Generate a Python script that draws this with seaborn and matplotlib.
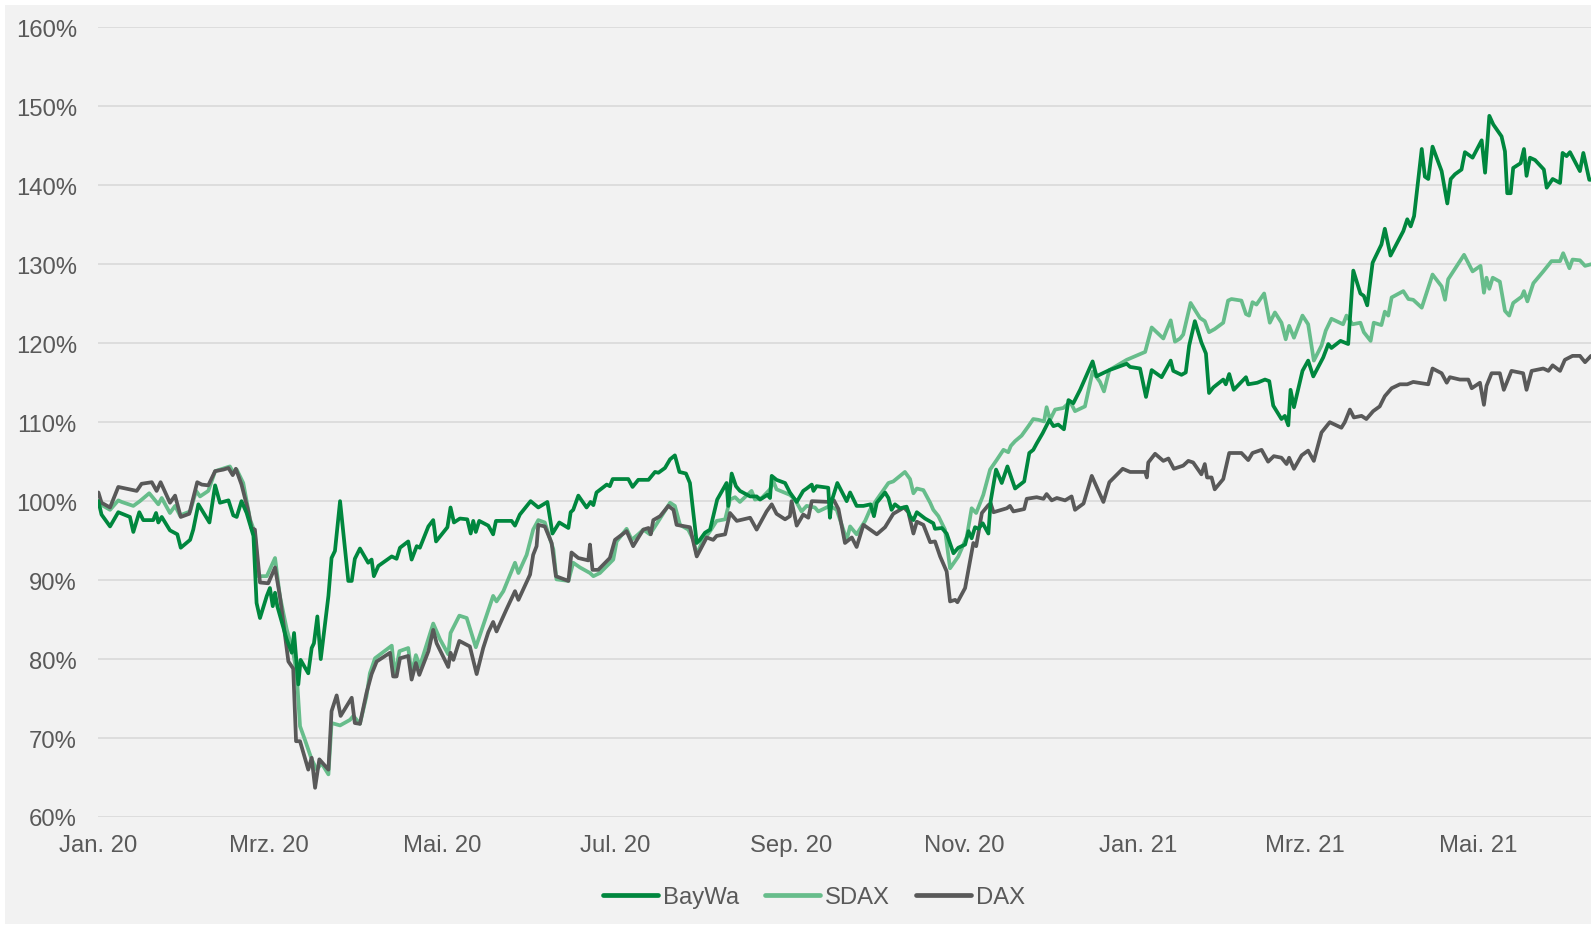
import pandas as pd
import matplotlib
matplotlib.use("Agg")
import matplotlib.pyplot as plt
from matplotlib.patches import Rectangle
from matplotlib.lines import Line2D
import seaborn as sns

# ---------------- data (indexed to 100 % at start, days since 2020-01-01) ----------------
start_date = "2020-01-01"
series_names = ["BayWa", "SDAX", "DAX"]
series_colors = ["#00873e", "#67bd8b", "#595959"]

baywa_days = [
    0, 1.1, 4.1, 7.0, 11.1, 12.3, 14.4, 15.8, 19.3, 20.3,
    21.1, 22.3, 25.2, 27.8, 29.0, 32.3, 33.4, 35.2, 39.1, 41.1,
    42.8, 45.8, 47.5, 48.7, 50.4, 52.2, 54.6, 55.7, 56.9, 59.3,
    60.4, 61.4, 62.2, 63.0, 66.3, 68.1, 68.9, 70.4, 71.2, 73.9,
    75.1, 75.9, 77.1, 78.3, 81.0, 82.1, 83.3, 85.1, 88.0, 89.2,
    90.3, 92.1, 95.0, 96.2, 97.0, 98.6, 103.3, 105.0, 106.2, 109.1,
    110.3, 112.1, 113.2, 116.2, 117.9, 118.9, 122.9, 124.0, 125.2, 127.3,
    129.9, 131.1, 132.0, 132.9, 134.1, 137.3, 139.0, 140.0, 145.5, 146.7,
    148.4, 152.2, 154.9, 158.1, 159.9, 162.3, 165.5, 166.3, 167.2, 169.0,
    171.9, 173.3, 174.3, 175.4, 179.0, 180.1, 181.1, 186.6, 188.1, 190.1,
    193.7, 196.0, 197.2, 199.5, 201.3, 203.0, 204.6, 206.9, 208.3, 210.7,
    211.8, 213.6, 215.4, 217.9, 221.2, 221.8, 223.0, 224.5, 225.9, 229.5,
    231.8, 233.0, 235.6, 236.5, 237.1, 238.8, 241.8, 243.5, 245.9, 248.2,
    249.4, 251.2, 251.8, 252.9, 257.0, 257.6, 258.2, 260.2, 263.5, 264.7,
    267.0, 269.4, 271.9, 273.1, 274.1, 277.0, 278.2, 279.3, 280.5, 282.3,
    284.6, 285.8, 287.0, 288.2, 291.1, 294.0, 294.6, 297.0, 298.7, 301.1,
    302.8, 305.2, 306.4, 307.5, 308.7, 309.9, 311.4, 313.4, 314.2, 316.1,
    318.1, 320.1, 322.8, 326.0, 327.8, 329.2, 330.4, 332.5, 334.9, 336.3,
    338.0, 340.0, 341.6, 343.3, 345.7, 350.1, 351.5, 352.5, 356.0, 362.1,
    363.3, 366.8, 368.9, 370.9, 374.4, 377.6, 378.5, 381.4, 382.9, 384.1,
    386.1, 388.4, 390.0, 391.1, 392.6, 396.1, 397.0, 398.2, 399.8, 404.1,
    404.9, 408.1, 410.8, 412.3, 413.7, 416.6, 417.8, 419.0, 419.8, 421.0,
    424.0, 426.0, 427.8, 431.3, 433.1, 434.2, 437.4, 440.1, 441.9, 444.4,
    445.6, 446.8, 448.7, 451.8, 453.0, 455.0, 459.5, 460.9, 462.1, 463.3,
    466.0, 467.1, 468.3, 469.8, 473.0, 475.0, 476.2, 477.7, 480.0, 481.2,
    483.9, 487.1, 488.3, 489.8, 491.2, 494.1, 495.3, 496.1, 497.3, 498.2,
    500.8, 502.0, 502.9, 504.1, 505.9, 509.0, 510.0, 512.1, 514.7, 515.6,
    517.0, 518.2, 521.7, 522.9, 525.0, 525.6,
]
baywa_values = [
    100.0, 98.3, 96.8, 98.6, 98.0, 96.1, 98.6, 97.6, 97.6, 98.5,
    97.3, 98.0, 96.3, 95.8, 94.1, 95.1, 96.4, 99.6, 97.3, 102.0,
    99.8, 100.1, 98.2, 98.0, 100.0, 98.5, 95.6, 87.1, 85.2, 88.0,
    89.0, 86.7, 88.4, 86.7, 82.5, 80.8, 83.3, 76.8, 79.9, 78.2,
    81.4, 82.0, 85.4, 80.0, 88.0, 92.8, 93.7, 100.0, 89.9, 89.9,
    92.7, 94.0, 92.2, 92.6, 90.5, 91.8, 93.0, 92.7, 94.1, 94.9,
    92.6, 94.3, 94.1, 96.8, 97.6, 94.9, 96.7, 99.2, 97.3, 97.8,
    97.7, 95.9, 97.5, 96.1, 97.5, 96.9, 95.8, 97.5, 97.5, 96.9,
    98.3, 100.0, 99.2, 99.9, 95.9, 97.3, 96.6, 98.6, 98.9, 100.7,
    99.2, 99.9, 99.5, 101.1, 102.1, 101.9, 102.8, 102.8, 101.8, 102.7,
    102.7, 103.7, 103.6, 104.2, 105.3, 105.8, 103.7, 103.5, 102.3, 94.7,
    95.1, 96.0, 96.4, 100.2, 102.3, 99.4, 103.5, 101.9, 101.3, 100.6,
    100.6, 100.2, 100.8, 100.4, 103.2, 102.7, 102.3, 101.1, 99.9, 101.3,
    101.6, 102.1, 101.3, 101.9, 101.7, 97.9, 100.0, 102.3, 100.0, 101.1,
    99.4, 99.4, 99.6, 98.1, 99.8, 101.1, 100.4, 98.9, 99.6, 99.1,
    99.3, 98.1, 97.6, 98.6, 97.8, 97.2, 96.5, 96.6, 95.9, 93.4,
    94.1, 94.5, 96.2, 95.3, 96.7, 96.5, 97.2, 95.9, 100.0, 104.0,
    102.3, 104.4, 101.6, 102.5, 106.1, 106.5, 107.3, 108.6, 110.3, 109.5,
    109.7, 109.1, 112.8, 112.4, 114.1, 117.7, 115.8, 116.0, 116.6, 117.4,
    117.0, 116.8, 113.2, 116.6, 115.7, 117.8, 116.5, 116.0, 116.3, 119.7,
    122.8, 120.1, 118.7, 113.7, 114.4, 115.4, 114.8, 116.1, 114.1, 115.7,
    114.8, 115.0, 115.4, 115.2, 112.1, 110.4, 110.8, 109.6, 114.1, 111.9,
    116.5, 117.8, 115.8, 118.2, 119.9, 119.4, 120.3, 119.9, 129.2, 126.3,
    126.0, 124.8, 130.2, 132.5, 134.5, 131.1, 134.2, 135.7, 134.8, 136.1,
    144.6, 141.1, 140.8, 144.9, 141.8, 137.7, 140.8, 141.4, 142.0, 144.2,
    143.5, 145.7, 141.6, 148.8, 147.7, 146.2, 144.3, 139.0, 139.0, 142.2,
    142.8, 144.6, 141.2, 143.5, 143.2, 142.0, 139.7, 140.8, 140.3, 144.1,
    143.7, 144.2, 141.8, 144.1, 140.7, 140.7,
]

sdax_days = [
    0, 1.7, 4.1, 7.0, 8.2, 12.3, 14.6, 17.9, 19.3, 21.1,
    22.3, 25.2, 27.0, 28.7, 32.3, 34.4, 35.8, 38.7, 41.1, 46.3,
    47.5, 48.7, 51.0, 53.4, 55.1, 56.3, 59.3, 62.2, 63.9, 66.3,
    68.6, 69.8, 71.0, 72.7, 75.1, 76.9, 78.6, 81.0, 82.1, 85.1,
    88.6, 89.8, 92.1, 94.4, 95.6, 97.4, 103.3, 104.4, 106.0, 109.1,
    110.3, 111.8, 113.2, 117.9, 120.3, 123.2, 124.0, 127.1, 129.7, 132.9,
    139.0, 140.2, 142.6, 146.7, 147.9, 150.8, 153.1, 154.9, 157.2, 160.2,
    161.3, 165.5, 167.2, 169.6, 173.1, 174.3, 176.6, 181.3, 182.5, 186.0,
    187.8, 190.1, 191.9, 194.2, 196.0, 201.3, 203.0, 204.8, 207.7, 209.5,
    210.7, 212.4, 215.4, 217.7, 220.7, 222.4, 224.2, 225.9, 230.0, 231.2,
    233.6, 236.5, 237.7, 238.8, 243.5, 245.3, 247.6, 249.4, 252.3, 253.5,
    257.6, 260.0, 263.5, 264.7, 267.0, 270.0, 271.7, 274.1, 278.2, 279.9,
    284.0, 285.8, 287.0, 288.2, 290.5, 292.9, 294.0, 295.8, 298.1, 299.9,
    302.8, 305.8, 307.5, 309.1, 311.6, 314.0, 316.3, 318.7, 320.4, 321.3,
    322.8, 325.1, 327.5, 329.2, 331.0, 333.0, 333.9, 335.1, 336.9, 339.8,
    342.2, 343.9, 347.4, 350.1, 352.7, 354.1, 356.0, 362.1, 368.6, 370.9,
    375.0, 376.2, 377.6, 379.1, 380.9, 382.0, 384.6, 387.9, 389.6, 391.1,
    393.1, 396.1, 397.8, 399.0, 402.5, 404.1, 405.2, 406.4, 407.8, 410.5,
    412.5, 414.3, 416.6, 418.1, 419.3, 421.0, 424.0, 426.0, 428.0, 430.7,
    432.2, 434.2, 438.3, 439.5, 441.6, 444.4, 445.6, 448.0, 449.1, 451.8,
    453.0, 454.2, 455.4, 459.5, 461.3, 463.0, 466.0, 469.8, 473.0, 474.2,
    475.3, 480.9, 483.9, 486.7, 487.9, 488.8, 489.8, 491.0, 493.5, 495.3,
    496.8, 498.2, 501.2, 502.0, 503.2, 505.3, 508.8, 511.7, 514.7, 515.8,
    518.0, 519.1, 521.7, 523.5, 525.6,
]
sdax_values = [
    100.0, 99.4, 98.9, 100.1, 99.9, 99.4, 100.0, 101.0, 100.4, 99.6,
    100.4, 98.5, 99.4, 98.2, 98.7, 101.3, 100.6, 101.3, 103.8, 104.4,
    103.6, 104.0, 102.3, 97.7, 96.0, 90.5, 90.5, 92.8, 88.0, 83.8,
    80.8, 78.2, 71.5, 69.8, 67.3, 66.0, 66.8, 65.4, 71.9, 71.6,
    72.3, 72.8, 71.8, 75.3, 78.2, 80.1, 81.7, 77.8, 81.0, 81.4,
    78.2, 80.5, 79.1, 84.5, 82.5, 80.6, 83.3, 85.5, 85.2, 81.5,
    88.0, 87.3, 88.6, 92.2, 90.9, 93.2, 96.4, 97.6, 97.3, 93.9,
    90.1, 89.9, 92.2, 91.6, 90.9, 90.5, 90.9, 92.6, 94.9, 96.5,
    95.1, 95.8, 96.4, 95.8, 96.8, 99.8, 99.4, 97.0, 96.4, 95.1,
    93.2, 94.7, 96.2, 97.5, 97.7, 100.2, 100.5, 99.9, 101.3, 100.2,
    100.4, 101.5, 102.5, 101.5, 100.8, 100.2, 98.7, 99.4, 99.2, 98.7,
    99.4, 98.9, 95.1, 96.8, 95.8, 97.5, 98.9, 100.2, 102.3, 102.5,
    103.7, 102.8, 101.0, 101.6, 101.4, 99.8, 98.9, 98.1, 96.4, 91.5,
    93.0, 95.5, 99.1, 98.5, 100.8, 104.0, 105.2, 106.5, 106.2, 107.0,
    107.6, 108.3, 109.5, 110.4, 110.3, 110.1, 111.9, 110.3, 111.6, 111.8,
    112.6, 111.4, 112.0, 116.4, 115.1, 113.9, 116.6, 117.9, 118.9, 122.0,
    120.6, 121.7, 122.9, 120.2, 120.6, 121.1, 125.1, 123.2, 122.8, 121.4,
    121.8, 122.6, 125.4, 125.6, 125.4, 123.7, 123.5, 125.2, 124.9, 126.3,
    122.6, 123.9, 122.6, 120.5, 122.2, 120.7, 123.5, 122.4, 117.8, 119.7,
    121.6, 123.1, 122.4, 123.5, 122.4, 122.6, 121.4, 120.3, 122.6, 122.3,
    124.0, 123.5, 125.8, 126.6, 125.6, 125.5, 124.5, 128.7, 127.2, 125.5,
    128.1, 131.2, 129.1, 129.8, 126.4, 128.3, 126.9, 128.3, 127.8, 124.1,
    123.5, 125.1, 125.9, 126.6, 125.3, 127.6, 129.1, 130.4, 130.4, 131.4,
    129.5, 130.6, 130.5, 129.8, 130.0,
]

dax_days = [
    0, 1.1, 4.1, 7.0, 12.3, 13.5, 15.2, 18.8, 20.5, 21.9,
    25.2, 27.0, 29.0, 32.0, 34.8, 36.4, 38.7, 41.1, 44.0, 45.8,
    47.3, 48.4, 50.4, 52.8, 53.9, 55.1, 56.9, 59.8, 62.2, 63.9,
    66.9, 68.6, 69.6, 71.0, 73.9, 75.1, 76.3, 77.8, 81.0, 82.1,
    83.9, 85.3, 89.2, 90.3, 92.1, 94.4, 96.2, 98.0, 102.7, 103.8,
    105.0, 106.2, 109.1, 110.3, 111.8, 113.0, 116.2, 117.9, 119.1, 123.2,
    124.0, 125.0, 127.1, 130.8, 133.2, 135.5, 137.3, 139.0, 140.2, 143.7,
    146.7, 147.9, 152.0, 153.1, 154.3, 154.9, 157.2, 159.6, 161.1, 165.5,
    166.6, 169.0, 172.5, 173.1, 174.0, 176.0, 180.1, 181.9, 186.0, 188.3,
    190.5, 191.9, 193.7, 194.5, 195.4, 197.8, 200.7, 202.5, 203.6, 208.3,
    210.7, 214.2, 216.5, 217.7, 220.7, 222.4, 224.8, 229.5, 231.8, 235.3,
    237.1, 238.8, 241.8, 243.5, 244.1, 245.9, 248.2, 250.0, 251.2, 257.6,
    259.0, 260.6, 262.9, 265.3, 267.0, 269.4, 274.1, 277.0, 279.9, 283.7,
    285.2, 287.0, 288.2, 290.5, 292.9, 294.6, 296.4, 298.7, 299.9, 301.7,
    302.5, 305.2, 308.1, 309.1, 311.1, 313.4, 314.2, 315.2, 319.9, 321.0,
    322.2, 326.0, 326.9, 330.4, 332.8, 333.9, 335.7, 337.5, 340.4, 342.7,
    343.9, 346.9, 349.8, 353.9, 356.0, 360.7, 363.3, 368.6, 369.2, 369.7,
    372.1, 375.0, 376.8, 378.7, 382.0, 383.8, 385.5, 388.4, 389.6, 390.4,
    392.0, 393.1, 396.1, 398.2, 402.5, 404.9, 406.4, 409.6, 411.9, 413.9,
    416.6, 418.4, 419.3, 421.0, 423.7, 426.0, 428.0, 430.7, 433.6, 437.7,
    438.9, 440.7, 442.1, 444.8, 446.5, 448.9, 451.2, 453.0, 455.4, 458.3,
    460.9, 463.0, 466.5, 468.3, 469.8, 473.0, 474.8, 475.9, 479.4, 482.4,
    483.6, 486.5, 487.9, 488.8, 490.6, 493.5, 494.9, 497.6, 501.7, 502.9,
    504.7, 508.8, 510.6, 512.1, 514.7, 516.4, 519.1, 521.7, 523.5, 525.6,
]
dax_values = [
    101.1, 99.8, 99.2, 101.8, 101.4, 101.3, 102.2, 102.4, 101.3, 102.4,
    99.8, 100.7, 98.0, 98.4, 102.4, 102.1, 102.0, 103.8, 104.0, 104.2,
    103.3, 104.1, 102.1, 98.7, 96.6, 96.4, 89.7, 89.6, 91.6, 88.0,
    79.7, 78.8, 69.6, 69.6, 66.0, 67.5, 63.7, 67.3, 66.0, 73.4,
    75.4, 72.8, 75.1, 71.9, 71.8, 75.7, 78.1, 79.7, 80.8, 77.8,
    77.8, 80.1, 80.4, 77.4, 79.5, 78.0, 81.0, 83.7, 82.0, 79.0,
    80.8, 79.9, 82.3, 81.6, 78.1, 81.4, 83.4, 84.7, 83.5, 86.3,
    88.6, 87.5, 90.7, 93.2, 94.3, 97.0, 96.8, 94.7, 90.5, 89.9,
    93.5, 92.8, 92.5, 94.5, 91.3, 91.3, 92.8, 95.1, 96.2, 94.3,
    95.6, 96.4, 96.6, 95.8, 97.6, 98.1, 99.4, 98.9, 97.0, 96.7,
    93.0, 95.4, 95.1, 95.6, 95.8, 98.5, 97.5, 97.9, 96.4, 98.7,
    99.6, 98.4, 97.7, 98.1, 100.0, 96.9, 98.3, 97.9, 100.0, 99.9,
    100.1, 99.0, 94.7, 95.4, 94.2, 97.0, 95.8, 96.7, 98.4, 99.2,
    98.6, 95.9, 97.4, 97.0, 94.8, 94.9, 93.0, 91.1, 87.3, 87.5,
    87.2, 89.0, 94.7, 94.3, 98.5, 99.5, 99.7, 98.6, 99.1, 99.4,
    98.7, 99.0, 100.3, 100.5, 100.3, 100.9, 100.1, 100.4, 100.1, 100.6,
    98.9, 99.7, 103.2, 99.9, 102.4, 104.1, 103.7, 103.7, 103.0, 104.9,
    106.0, 105.1, 105.4, 104.1, 104.5, 105.1, 104.9, 103.4, 104.7, 103.0,
    103.0, 101.5, 102.8, 106.1, 106.1, 105.2, 106.1, 106.5, 105.0, 105.7,
    105.5, 104.7, 105.5, 104.1, 105.8, 106.4, 105.1, 108.7, 110.0, 109.3,
    110.0, 111.6, 110.6, 110.8, 110.4, 111.4, 112.0, 113.3, 114.3, 114.8,
    114.8, 115.1, 114.9, 114.8, 116.8, 116.2, 115.0, 115.7, 115.4, 115.4,
    114.3, 115.0, 112.2, 114.6, 116.2, 116.2, 114.1, 116.5, 116.2, 114.1,
    116.5, 116.8, 116.5, 117.2, 116.5, 117.9, 118.4, 118.4, 117.6, 118.4,
]

tick_dates = ["2020-01-01", "2020-03-01", "2020-05-01", "2020-07-01", "2020-09-01",
              "2020-11-01", "2021-01-01", "2021-03-01", "2021-05-01"]
tick_labels = ["Jan. 20", "Mrz. 20", "Mai. 20", "Jul. 20", "Sep. 20",
               "Nov. 20", "Jan. 21", "Mrz. 21", "Mai. 21"]
y_ticks = [60, 70, 80, 90, 100, 110, 120, 130, 140, 150, 160]
end_day = 525.6

# ---------------- build long table ----------------
base = pd.Timestamp(start_date)
frames = []
for name, days, vals in [("BayWa", baywa_days, baywa_values),
                         ("SDAX", sdax_days, sdax_values),
                         ("DAX", dax_days, dax_values)]:
    frames.append(pd.DataFrame({
        "date": base + pd.to_timedelta(pd.Series(days, dtype=float), unit="D"),
        "value": vals,
        "series": name,
    }))
df = pd.concat(frames, ignore_index=True)

# ---------------- styling ----------------
sns.set_theme(style="white")
plt.rcParams["font.family"] = ["Liberation Sans", "DejaVu Sans"]
text_color = "#595959"
bg = "#f2f2f2"
font_size = 17.2

W, H = 1591, 928
fig = plt.figure(figsize=(W / 100, H / 100), dpi=100, facecolor="white")
fig.patches.append(Rectangle((5 / W, 3 / H), 1 - 5 / W, 1 - 9 / H,
                             transform=fig.transFigure, facecolor=bg,
                             edgecolor="none", zorder=-10))
ax_left, ax_top, ax_bottom = 98.4, 28.4, 818.0
ax = fig.add_axes([ax_left / W, 1 - ax_bottom / H, 1 - ax_left / W, (ax_bottom - ax_top) / H])
ax.set_facecolor(bg)

palette = dict(zip(series_names, series_colors))
sns.lineplot(data=df, x="date", y="value", hue="series", hue_order=series_names,
             palette=palette, estimator=None, sort=False, linewidth=2.7,
             legend=False, ax=ax)
z_order = {"BayWa": 5, "SDAX": 3, "DAX": 4}
for line, name in zip(ax.lines, series_names):
    line.set_zorder(z_order[name])
    line.set_solid_joinstyle("round")
    line.set_solid_capstyle("round")

ax.set_ylim(60, 160)
ax.set_xlim(base, base + pd.Timedelta(days=end_day))
ax.set_yticks(y_ticks)
ax.set_yticklabels([f"{v}%" for v in y_ticks])
ax.set_xticks([pd.Timestamp(d) for d in tick_dates])
ax.set_xticklabels(tick_labels)
ax.tick_params(axis="y", length=0, pad=15.5, labelsize=font_size, labelcolor=text_color)
ax.tick_params(axis="x", length=0, pad=12, labelsize=font_size, labelcolor=text_color)
ax.set_xlabel("")
ax.set_ylabel("")
ax.grid(axis="y", color="#d9d9d9", linewidth=1.2)
ax.grid(axis="x", visible=False)
ax.set_axisbelow(True)
for s in ax.spines.values():
    s.set_visible(False)

handles = [Line2D([0], [0], color=c, linewidth=3.4) for c in series_colors]
fig.legend(handles, series_names, loc="center", bbox_to_anchor=(814 / W, 1 - 898.5 / H),
           ncol=3, frameon=False, fontsize=font_size, handlelength=2.3, handletextpad=0.2,
           columnspacing=1.1, labelcolor=text_color)

fig.savefig("out.png", dpi=100, facecolor=fig.get_facecolor())
